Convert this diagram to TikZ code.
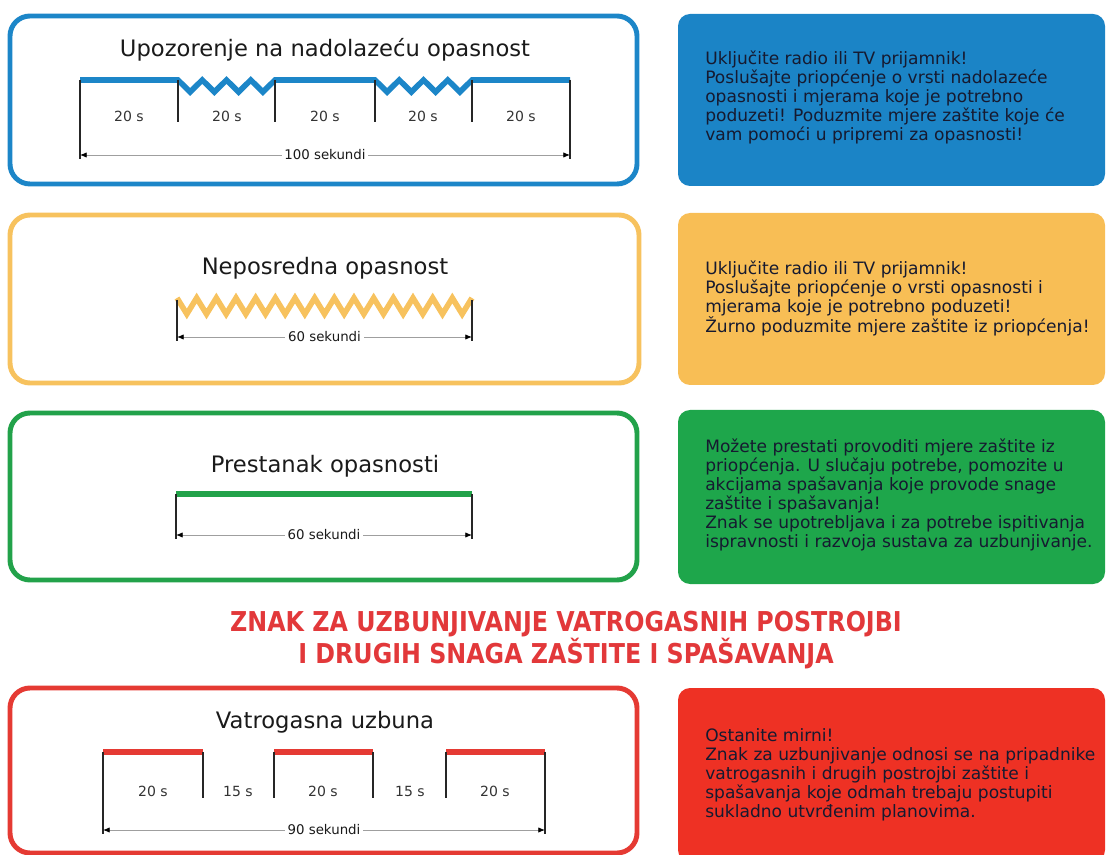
\documentclass[tikz,border=0pt]{standalone}
\usepackage{fontspec}
\setmainfont{DejaVu Sans}
\newfontfamily\headfont{DejaVu Sans}[FakeStretch=0.87]
\usetikzlibrary{arrows.meta}
\definecolor{cblue}{HTML}{1C86C8}
\definecolor{fblue}{HTML}{1B84C6}
\definecolor{cyel}{HTML}{F7C25E}
\definecolor{fyel}{HTML}{F8BE55}
\definecolor{cgreen}{HTML}{22A24A}
\definecolor{fgreen}{HTML}{1EA64B}
\definecolor{cred}{HTML}{E53A33}
\definecolor{fred}{HTML}{EE3124}
\definecolor{headred}{HTML}{E2383A}
\definecolor{txt}{HTML}{1A1A1A}
\definecolor{boxtxt}{HTML}{161A30}
\begin{document}
\begin{tikzpicture}[x=0.75pt,y=-0.75pt,
  panel/.style={draw=#1, line width=3.7pt, rounded corners=15pt},
  infobox/.style={fill=#1, rounded corners=9pt},
  sig/.style={draw=#1, line width=4.2pt, line join=miter},
  tickline/.style={draw=black!85, line width=1.1pt},
  dimline/.style={draw=gray!75, line width=0.6pt,
     {Latex[length=5pt,width=4pt,color=black]}-{Latex[length=5pt,width=4pt,color=black]}},
  dimlabel/.style={fill=white, inner sep=2pt, text=txt, font=\fontsize{10pt}{12pt}\selectfont},
  seglabel/.style={text=black!80, font=\fontsize{10.5pt}{12pt}\selectfont},
  ptitle/.style={text=txt, font=\fontsize{17pt}{20pt}\selectfont},
  infotext/.style={anchor=west, align=left, text=boxtxt, inner sep=0pt,
     font=\fontsize{12.8pt}{14.25pt}\selectfont},
  heading/.style={text=headred, align=center, font=\headfont\bfseries\fontsize{20.5pt}{22.5pt}\selectfont}
]
\useasboundingbox (0,0) rectangle (1107,855);

% ---------- Blue ----------
\draw[panel=cblue] (10,16) rectangle (637,184);
\fill[infobox=fblue] (678,14) rectangle (1105,186);
\node[ptitle] (t1) at (325,50) {Upozorenje na nadolazeću opasnost};
\draw[sig=cblue] (80,80) -- (178,80)
  \foreach \i in {1,...,4} { -- ++(12.125,12) -- ++(12.125,-12) }
  -- (375,80)
  \foreach \i in {1,...,4} { -- ++(12.125,12) -- ++(12.125,-12) }
  -- (570,80);
\foreach \x/\n in {80/a0,178/a1,275/a2,375/a3,472/a4,570/a5}
  \coordinate (\n) at (\x,80);
\foreach \n in {a1,a2,a3,a4} \draw[tickline] (\n) -- ++(0,42);
\coordinate (ad0) at (80,155);
\coordinate (ad5) at (570,155);
\draw[tickline] (a0) -- (80,159);
\draw[tickline] (a5) -- (570,159);
\draw[dimline] (ad0) -- (ad5) node[dimlabel, midway] (l1) {100 sekundi};
\foreach \x/\n in {129/s1,227/s2,325/s3,423/s4,521/s5}
  \node[seglabel] (b\n) at (\x,116) {20 s};
\node[infotext] (i1) at (705,97) {Uključite radio ili TV prijamnik!\\
Poslušajte priopćenje o vrsti nadolazeće\\
opasnosti i mjerama koje je potrebno\\
poduzeti! Poduzmite mjere zaštite koje će\\
vam pomoći u pripremi za opasnosti!};

% ---------- Yellow ----------
\draw[panel=cyel] (10,215) rectangle (639,383);
\fill[infobox=fyel] (678,213) rectangle (1105,385);
\node[ptitle] (t2) at (325,268) {Neposredna opasnost};
\draw[sig=cyel] (177,298)
  \foreach \i in {1,...,15} { -- ++(9.833,16) -- ++(9.833,-16) };
\coordinate (y0) at (177,300);
\coordinate (y1) at (472,300);
\coordinate (yd0) at (177,337);
\coordinate (yd1) at (472,337);
\draw[tickline] (y0) -- (177,341);
\draw[tickline] (y1) -- (472,341);
\draw[dimline] (yd0) -- (yd1) node[dimlabel, midway] (l2) {60 sekundi};
\node[infotext] (i2) at (705,298.5) {Uključite radio ili TV prijamnik!\\
Poslušajte priopćenje o vrsti opasnosti i\\
mjerama koje je potrebno poduzeti!\\
Žurno poduzmite mjere zaštite iz priopćenja!};

% ---------- Green ----------
\draw[panel=cgreen] (10,413) rectangle (637,580);
\fill[infobox=fgreen] (678,410) rectangle (1105,584);
\node[ptitle] (t3) at (325,466) {Prestanak opasnosti};
\draw[sig=cgreen] (176,494) -- (472,494);
\coordinate (g0) at (176,494);
\coordinate (g1) at (472,494);
\coordinate (gd0) at (176,535);
\coordinate (gd1) at (472,535);
\draw[tickline] (g0) -- (176,539);
\draw[tickline] (g1) -- (472,539);
\draw[dimline] (gd0) -- (gd1) node[dimlabel, midway] (l3) {60 sekundi};
\node[infotext] (i3) at (705,495) {Možete prestati provoditi mjere zaštite iz\\
priopćenja. U slučaju potrebe, pomozite u\\
akcijama spašavanja koje provode snage\\
zaštite i spašavanja!\\
Znak se upotrebljava i za potrebe ispitivanja\\
ispravnosti i razvoja sustava za uzbunjivanje.};

% ---------- Heading ----------
\node[heading] (h) at (566,640) {ZNAK ZA UZBUNJIVANJE VATROGASNIH POSTROJBI\\I DRUGIH SNAGA ZAŠTITE I SPAŠAVANJA};

% ---------- Red ----------
\draw[panel=cred] (10,688) rectangle (637,853);
\fill[infobox=fred] (678,688) rectangle (1105,862);
\node[ptitle] (t4) at (325,722) {Vatrogasna uzbuna};
\foreach \a/\b in {103/203,274/373,446/545}
  \draw[sig=cred] (\a,752) -- (\b,752);
\foreach \x/\n in {103/r0,203/r1,274/r2,373/r3,446/r4,545/r5}
  \coordinate (\n) at (\x,752);
\foreach \n in {r1,r2,r3,r4} \draw[tickline] (\n) -- ++(0,46);
\coordinate (rd0) at (103,830);
\coordinate (rd5) at (545,830);
\draw[tickline] (r0) -- (103,834);
\draw[tickline] (r5) -- (545,834);
\draw[dimline] (rd0) -- (rd5) node[dimlabel, midway] (l4) {90 sekundi};
\foreach \x/\t/\n in {153/20 s/q1,238/15 s/q2,323/20 s/q3,410/15 s/q4,495/20 s/q5}
  \node[seglabel] (\n) at (\x,791) {\t};
\node[infotext] (i4) at (705,775) {Ostanite mirni!\\
Znak za uzbunjivanje odnosi se na pripadnike\\
vatrogasnih i drugih postrojbi zaštite i\\
spašavanja koje odmah trebaju postupiti\\
sukladno utvrđenim planovima.};
\end{tikzpicture}
\end{document}
